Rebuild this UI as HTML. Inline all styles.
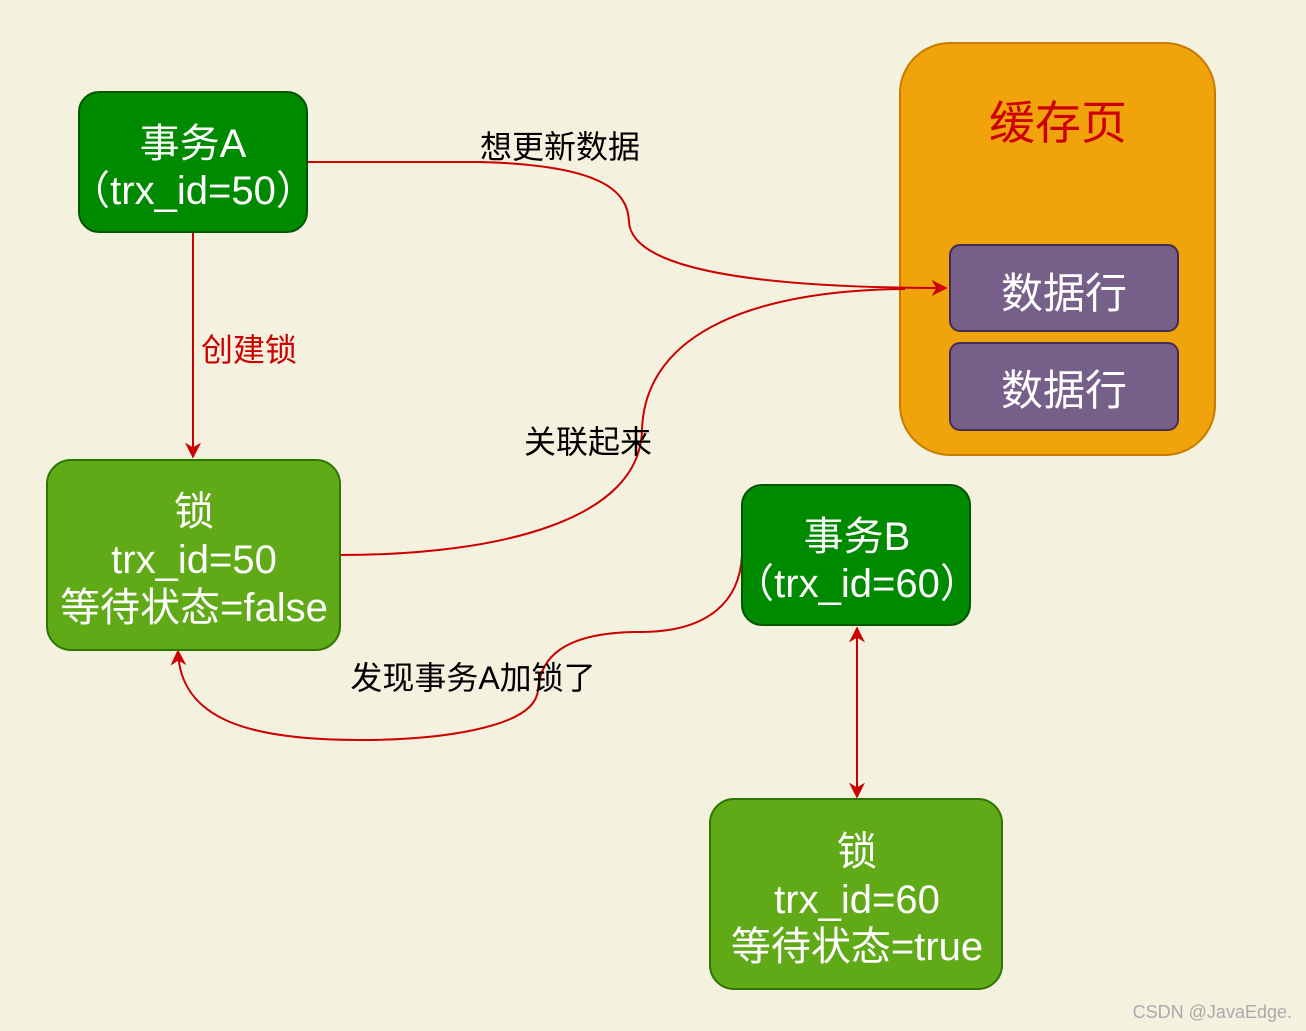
<!DOCTYPE html>
<html><head><meta charset="utf-8"><style>
html,body{margin:0;padding:0;background:#f4f1df;}
svg{display:block;font-family:"Liberation Sans","Noto Sans CJK SC",sans-serif;}
</style></head><body>
<svg width="1306" height="1031" viewBox="0 0 1306 1031">
<defs>
<marker id="ar2" viewBox="0 0 10 10" refX="9" refY="5" markerWidth="18" markerHeight="16" markerUnits="userSpaceOnUse" orient="auto-start-reverse">
<path d="M0,0 L10,5 L0,10 L3,5 Z" fill="#cc0000"/></marker>
</defs>
<rect width="1306" height="1031" fill="#f4f1df"/>
<rect x="900" y="43" width="315" height="412" rx="50" fill="#f0a30a" stroke="#c77c00" stroke-width="2"/>
<text x="1058" y="139" font-size="46" fill="#cc0000" text-anchor="middle">缓存页</text>
<rect x="950" y="245" width="228" height="86" rx="10" fill="#76608a" stroke="#432d57" stroke-width="2"/>
<text x="1064" y="308" font-size="42" fill="#fff" text-anchor="middle">数据行</text>
<rect x="950" y="343" width="228" height="87" rx="10" fill="#76608a" stroke="#432d57" stroke-width="2"/>
<text x="1064" y="405" font-size="42" fill="#fff" text-anchor="middle">数据行</text>
<g fill="none" stroke="#cc0000" stroke-width="2">
<path d="M307,162 L480,162 C600,165 628,190 629,222 C632,270 760,288 946,288" marker-end="url(#ar2)"/>
<path d="M193,232 L193,457" marker-end="url(#ar2)"/>
<path d="M340,555 C500,555 640,520 642,430 C645,330 760,290 905,289"/>
<path d="M742,555 C740,600 710,632 640,632 C560,632 540,660 538,690 C535,730 430,740 360,740 C250,740 180,720 178,651" marker-end="url(#ar2)"/>
<path d="M857,628 L857,797" marker-start="url(#ar2)" marker-end="url(#ar2)"/>
</g>
<rect x="79" y="92" width="228" height="140" rx="20" fill="#008a00" stroke="#005700" stroke-width="2"/>
<text x="193" y="157" font-size="40" fill="#fff" text-anchor="middle">事务A</text>
<text x="193" y="204" font-size="40" fill="#fff" text-anchor="middle">（trx_id=50）</text>
<rect x="47" y="460" width="293" height="190" rx="24" fill="#60a917" stroke="#2d7600" stroke-width="2"/>
<text x="194" y="525" font-size="40" fill="#fff" text-anchor="middle">锁</text>
<text x="194" y="573" font-size="40" fill="#fff" text-anchor="middle">trx_id=50</text>
<text x="194" y="621" font-size="40" fill="#fff" text-anchor="middle">等待状态=false</text>
<rect x="742" y="485" width="228" height="140" rx="20" fill="#008a00" stroke="#005700" stroke-width="2"/>
<text x="857" y="550" font-size="40" fill="#fff" text-anchor="middle">事务B</text>
<text x="857" y="597" font-size="40" fill="#fff" text-anchor="middle">（trx_id=60）</text>
<rect x="710" y="799" width="292" height="190" rx="24" fill="#60a917" stroke="#2d7600" stroke-width="2"/>
<text x="857" y="865" font-size="40" fill="#fff" text-anchor="middle">锁</text>
<text x="857" y="913" font-size="40" fill="#fff" text-anchor="middle">trx_id=60</text>
<text x="857" y="960" font-size="40" fill="#fff" text-anchor="middle">等待状态=true</text>
<text x="560" y="158" font-size="32" fill="#000" text-anchor="middle">想更新数据</text>
<text x="249" y="361" font-size="32" fill="#cc0000" text-anchor="middle">创建锁</text>
<text x="588" y="453" font-size="32" fill="#000" text-anchor="middle">关联起来</text>
<text x="473" y="689" font-size="32" fill="#000" text-anchor="middle">发现事务A加锁了</text>
<text x="1292" y="1018" font-size="18" fill="#aaa" text-anchor="end">CSDN @JavaEdge.</text>
</svg>
</body></html>
